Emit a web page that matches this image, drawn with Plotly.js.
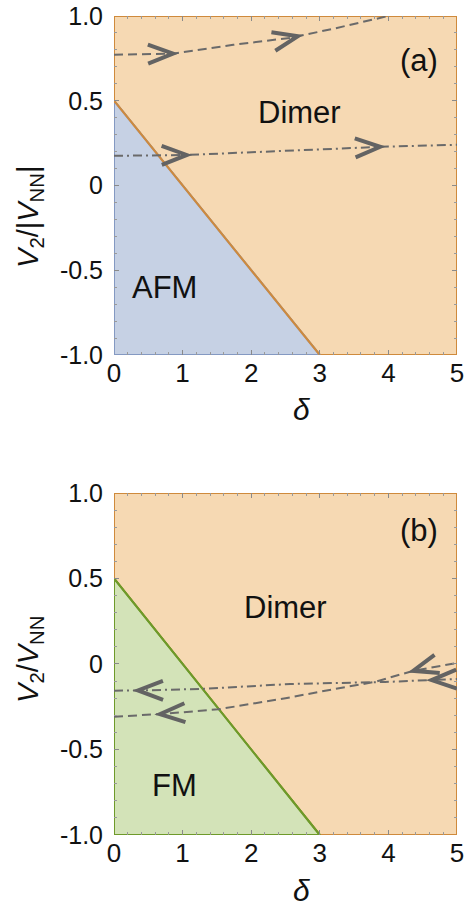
<!DOCTYPE html>
<html>
<head>
<meta charset="utf-8">
<script src="https://cdn.plot.ly/plotly-3.0.1.min.js"></script>
<style>html,body{margin:0;padding:0;background:#fff;}#chart{width:471px;height:906px;}</style>
</head>
<body>
<div id="chart"></div>
<script>
// ---- data ----
const boundaryX = [0, 3];
const boundaryY = [0.5, -1];
const xRange = [0, 5];
const yRange = [-1, 1];
const xTicks = [0, 1, 2, 3, 4, 5];
const yTickVals = [-1, -0.5, 0, 0.5, 1];
const yTickText = ["-1.0", "-0.5", "0", "0.5", "1.0"];

// panel (a) flow lines
const aDashX = [0, 0.86, 1.74, 2.57, 3.2, 4.0];
const aDashY = [0.772, 0.778, 0.83, 0.871, 0.925, 1.0];
const aDashArrowX = [0.86, 2.68];
const aDotX = [0, 1.06, 3.88, 5];
const aDotY = [0.175, 0.18, 0.228, 0.24];
const aDotArrowX = [1.06, 3.88];

// panel (b) flow lines
const bDashX = [0, 0.67, 1.52, 2.5, 3.3, 3.8, 4.36, 5];
const bDashY = [-0.308, -0.293, -0.265, -0.2, -0.14, -0.105, -0.04, 0.006];
const bDashArrowX = [0.67, 4.36];
const bDotX = [0, 0.35, 1.25, 2.57, 3.95, 4.63, 5];
const bDotY = [-0.156, -0.155, -0.146, -0.117, -0.105, -0.094, -0.088];
const bDotArrowX = [0.35, 4.63];

const labelsA = [{t: "Dimer", x: 2.71, y: 0.43}, {t: "AFM", x: 0.73, y: -0.6}, {t: "(a)", x: 4.44, y: 0.74}];
const labelsB = [{t: "Dimer", x: 2.5, y: 0.33}, {t: "FM", x: 0.88, y: -0.71}, {t: "(b)", x: 4.45, y: 0.78}];

// ---- style ----
const W = 471, H = 906;
const M = {l: 114, r: 14, t: 16, b: 71};
const domA = [0.5861, 1.0];
const domB = [0.0, 0.4176];
const dimerFill = "#f6d9b3";
const dimerEdge = "#cf8a3c";
const afmFill = "#c6d1e4";
const afmEdge = "#8499c2";
const fmFill = "#d3e3b8";
const fmEdge = "#6e9a2a";
const flowColor = "#6a6a6a";
const arrowColor = "#636363";
const FONT = "Liberation Sans, Arial, Helvetica, sans-serif";

const plotW = W - M.l - M.r;
const plotH = H - M.t - M.b;
const pxX = plotW / (xRange[1] - xRange[0]);
const pxY = (domA[1] - domA[0]) * plotH / (yRange[1] - yRange[0]);

function interp(xs, ys, x) {
  for (let i = 0; i < xs.length - 1; i++) {
    if (x >= xs[i] && x <= xs[i + 1]) {
      const t = (x - xs[i]) / (xs[i + 1] - xs[i]);
      return {y: ys[i] + t * (ys[i + 1] - ys[i]), s: (ys[i + 1] - ys[i]) / (xs[i + 1] - xs[i])};
    }
  }
  return {y: ys[ys.length - 1], s: 0};
}

function chevrons(xs, ys, arrowXs, dir, xref, yref) {
  const L = 25, Hh = 9.5;
  return arrowXs.map(ax => {
    const r = interp(xs, ys, ax);
    let dx = dir * pxX, dy = dir * r.s * pxY;
    const n = Math.hypot(dx, dy); dx /= n; dy /= n;
    const nx = -dy, ny = dx;
    const a1x = -L * dx + Hh * nx, a1y = -L * dy + Hh * ny;
    const a2x = -L * dx - Hh * nx, a2y = -L * dy - Hh * ny;
    return {
      type: "path", xref: xref, yref: yref, xsizemode: "pixel", ysizemode: "pixel",
      xanchor: ax, yanchor: r.y, layer: "above",
      path: `M${a1x.toFixed(2)},${a1y.toFixed(2)} L0,0 L${a2x.toFixed(2)},${a2y.toFixed(2)}`,
      line: {color: arrowColor, width: 4}
    };
  });
}

function regions(xa, ya, phaseFill, phaseEdge, lineColor) {
  const bx0 = boundaryX[0], by0 = boundaryY[0], bx1 = boundaryX[1], by1 = boundaryY[1];
  return [
    {x: [bx0, bx0, xRange[1], xRange[1], bx1, bx0], y: [by0, yRange[1], yRange[1], yRange[0], by1, by0],
     xaxis: xa, yaxis: ya, mode: "lines", fill: "toself", fillcolor: dimerFill,
     line: {color: dimerEdge, width: 2}, hoverinfo: "skip", showlegend: false},
    {x: [bx0, bx1, bx0, bx0], y: [by0, by1, yRange[0], by0],
     xaxis: xa, yaxis: ya, mode: "lines", fill: "toself", fillcolor: phaseFill,
     line: {color: phaseEdge, width: 2}, hoverinfo: "skip", showlegend: false},
    {x: boundaryX, y: boundaryY, xaxis: xa, yaxis: ya, mode: "lines",
     line: {color: lineColor, width: 2}, hoverinfo: "skip", showlegend: false}
  ];
}

function flow(xs, ys, dash, xa, ya) {
  return {x: xs, y: ys, xaxis: xa, yaxis: ya, mode: "lines",
    line: {color: flowColor, width: 2, dash: dash}, hoverinfo: "skip", showlegend: false};
}

const dashS = "9px,5px";
const dotS = "9px,4px,2px,4px";

const traces = [
  ...regions("x", "y", afmFill, afmEdge, dimerEdge),
  flow(aDashX, aDashY, dashS, "x", "y"),
  flow(aDotX, aDotY, dotS, "x", "y"),
  ...regions("x2", "y2", fmFill, fmEdge, fmEdge),
  flow(bDashX, bDashY, dashS, "x2", "y2"),
  flow(bDotX, bDotY, dotS, "x2", "y2")
];

const shapes = [
  ...chevrons(aDashX, aDashY, aDashArrowX, 1, "x", "y"),
  ...chevrons(aDotX, aDotY, aDotArrowX, 1, "x", "y"),
  ...chevrons(bDashX, bDashY, bDashArrowX, -1, "x2", "y2"),
  ...chevrons(bDotX, bDotY, bDotArrowX, -1, "x2", "y2")
];

function xAxis(anchor) {
  return {
    anchor: anchor, domain: [0, 1], range: xRange, tickvals: xTicks,
    ticks: "inside", ticklen: 5, tickwidth: 1, tickcolor: "#8a8a8a",
    mirror: "allticks", showline: false, zeroline: false, showgrid: false,
    minor: {dtick: 0.2, ticks: "inside", ticklen: 3, tickcolor: "#9a9a9a", showgrid: false},
    tickfont: {family: FONT, size: 26, color: "#111"}, ticklabelstandoff: 0,
    ticklabeloverflow: "allow", fixedrange: true
  };
}
function yAxis(anchor, dom) {
  return {
    anchor: anchor, domain: dom, range: yRange, tickvals: yTickVals, ticktext: yTickText,
    ticks: "inside", ticklen: 5, tickwidth: 1, tickcolor: "#8a8a8a",
    mirror: "allticks", showline: false, zeroline: false, showgrid: false,
    minor: {dtick: 0.1, ticks: "inside", ticklen: 3, tickcolor: "#9a9a9a", showgrid: false},
    tickfont: {family: FONT, size: 25, color: "#111"}, ticklabelstandoff: 10,
    ticklabeloverflow: "allow", fixedrange: true
  };
}

function textAnn(l, xr, yr) {
  return {text: l.t, x: l.x, y: l.y, xref: xr, yref: yr, showarrow: false,
    font: {family: FONT, size: 31, color: "#111"}, xanchor: "center", yanchor: "middle"};
}

const annotations = [
  ...labelsA.map(l => textAnn(l, "x", "y")),
  ...labelsB.map(l => textAnn(l, "x2", "y2")),
  {text: "<i>V</i><sub>2</sub>/|<i>V</i><sub>NN</sub>|", xref: "paper", yref: "paper",
   x: -0.245, y: 0.7546, textangle: -90, showarrow: false, xanchor: "center", yanchor: "middle",
   font: {family: FONT, size: 29, color: "#111"}},
  {text: "<i>V</i><sub>2</sub>/<i>V</i><sub>NN</sub>", xref: "paper", yref: "paper",
   x: -0.245, y: 0.2149, textangle: -90, showarrow: false, xanchor: "center", yanchor: "middle",
   font: {family: FONT, size: 29, color: "#111"}},
  {text: "<i>δ</i>", xref: "paper", yref: "paper", x: 0.548, y: 0.519, showarrow: false,
   xanchor: "center", yanchor: "middle", font: {family: FONT, size: 30, color: "#111"}},
  {text: "<i>δ</i>", xref: "paper", yref: "paper", x: 0.548, y: -0.0672, showarrow: false,
   xanchor: "center", yanchor: "middle", font: {family: FONT, size: 30, color: "#111"}}
];

const layout = {
  width: W, height: H, margin: M,
  paper_bgcolor: "#fff", plot_bgcolor: "#fff",
  showlegend: false,
  xaxis: xAxis("y"), yaxis: yAxis("x", domA),
  xaxis2: xAxis("y2"), yaxis2: yAxis("x2", domB),
  shapes: shapes, annotations: annotations
};

Plotly.newPlot("chart", traces, layout, {staticPlot: true, displayModeBar: false});
</script>
</body>
</html>
